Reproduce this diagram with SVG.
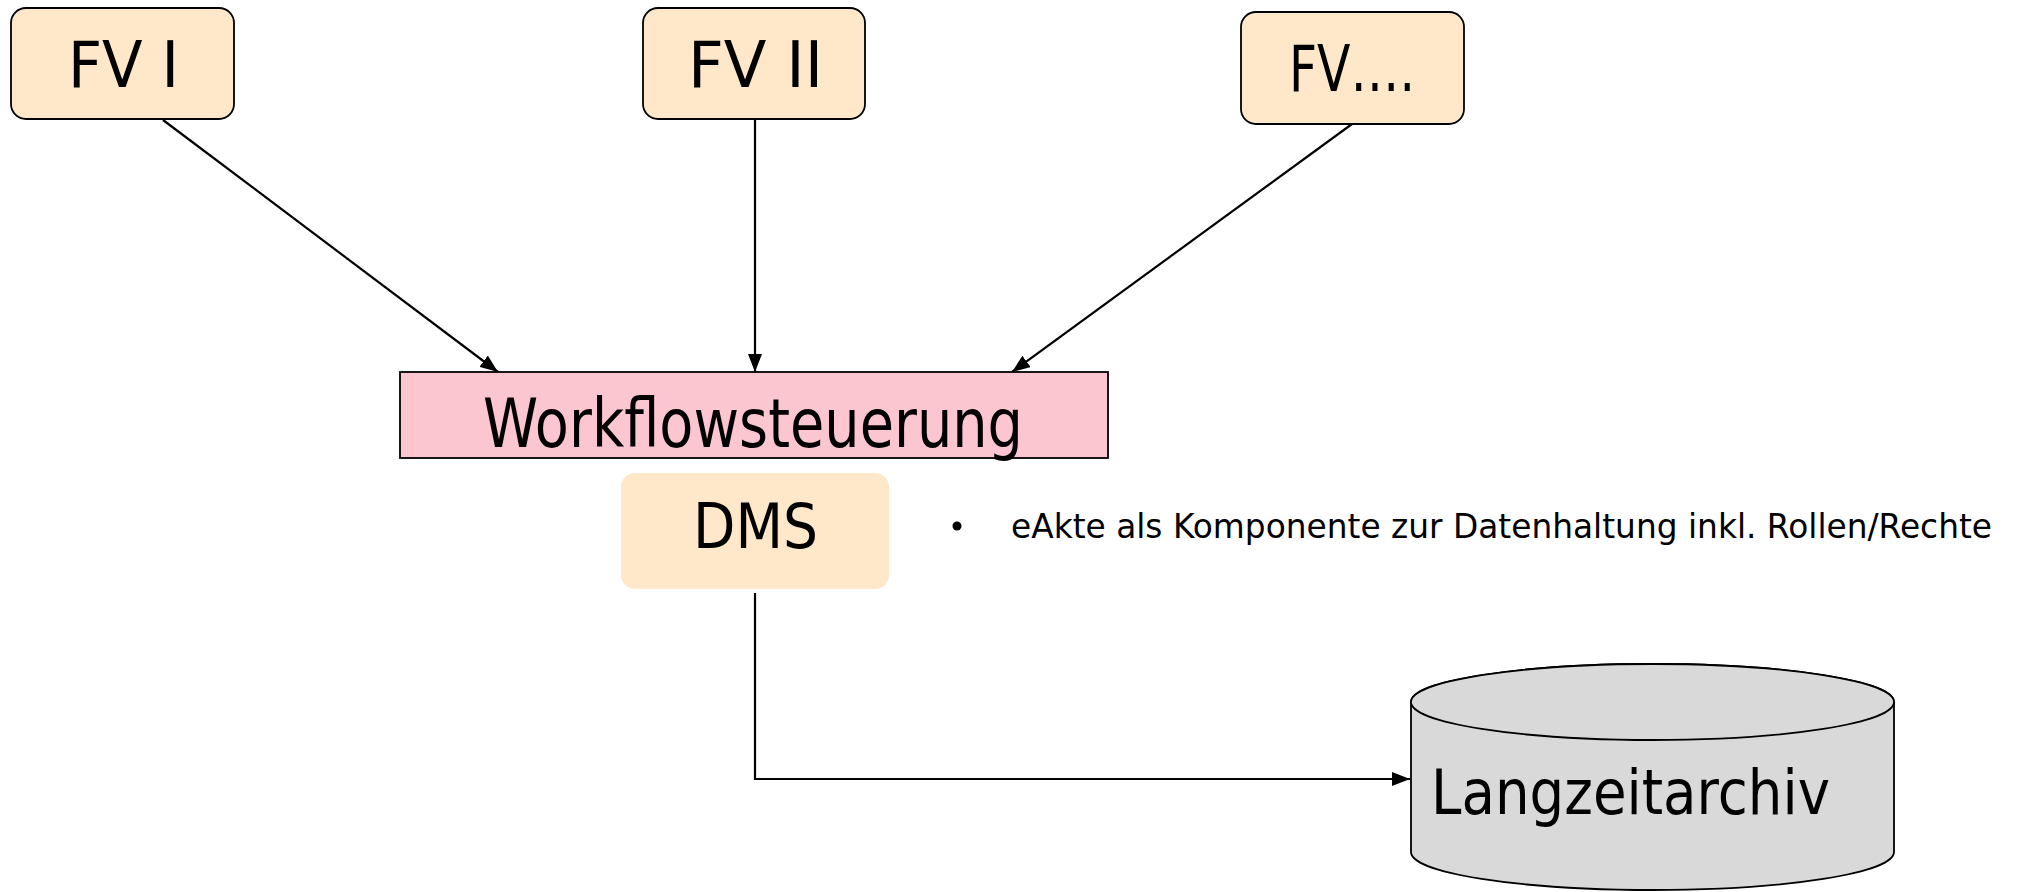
<svg xmlns="http://www.w3.org/2000/svg" width="2025" height="892" viewBox="0 0 2025 892">
<style>
.box{fill:#FFE8C9;stroke:#000;stroke-width:1.8}
.dms{fill:#FFE8C9;stroke:none}
.wf{fill:#FCC6D0;stroke:#000;stroke-width:1.8}
.cyl{fill:#D9D9D9;stroke:#000;stroke-width:1.8}
.lbl{font-family:"DejaVu Sans","Liberation Sans",sans-serif;fill:#000}
.conn{fill:none;stroke:#000;stroke-width:2.2}
</style>
<defs>
<marker id="ah" markerUnits="userSpaceOnUse" markerWidth="20" markerHeight="14" refX="18" refY="7" orient="auto">
<path d="M0,0 L18,7 L0,14 Z" fill="#000"/>
</marker>
</defs>
<rect width="2025" height="892" fill="#fff"/>
<g id="connectors">
<line class="conn" x1="163" y1="120" x2="498" y2="372" marker-end="url(#ah)"/>
<line class="conn" x1="755" y1="119" x2="755" y2="372" marker-end="url(#ah)"/>
<line class="conn" x1="1352" y1="124" x2="1012" y2="372" marker-end="url(#ah)"/>
<polyline class="conn" points="755,593 755,779 1410,779" marker-end="url(#ah)"/>
</g>
<g id="fv1">
<rect class="box" x="11" y="8" width="223" height="111" rx="15"/>
<text class="lbl" x="123.5" y="87" font-size="64" text-anchor="middle" textLength="111" lengthAdjust="spacingAndGlyphs">FV I</text>
</g>
<g id="fv2">
<rect class="box" x="643" y="8" width="222" height="111" rx="15"/>
<text class="lbl" x="755.5" y="87" font-size="64" text-anchor="middle" textLength="135" lengthAdjust="spacingAndGlyphs">FV II</text>
</g>
<g id="fv3">
<rect class="box" x="1241" y="12" width="223" height="112" rx="15"/>
<text class="lbl" x="1352" y="91" font-size="64" text-anchor="middle" textLength="126" lengthAdjust="spacingAndGlyphs">FV….</text>
</g>
<g id="workflow">
<rect class="wf" x="400" y="372" width="708" height="86"/>
<text class="lbl" x="753" y="447" font-size="67" text-anchor="middle" textLength="540" lengthAdjust="spacingAndGlyphs">Workflowsteuerung</text>
</g>
<g id="dms">
<rect class="dms" x="621" y="473" width="268" height="116" rx="14"/>
<text class="lbl" x="755.5" y="548" font-size="63" text-anchor="middle" textLength="125" lengthAdjust="spacingAndGlyphs">DMS</text>
</g>
<g id="note">
<circle cx="957" cy="526" r="4.5" fill="#000"/>
<text class="lbl" x="1011" y="538" font-size="33" textLength="981" lengthAdjust="spacingAndGlyphs">eAkte als Komponente zur Datenhaltung inkl. Rollen/Rechte</text>
</g>
<g id="archiv">
<path class="cyl" d="M1411,702 L1411,852 A241.5,38 0 0 0 1894,852 L1894,702 A241.5,38 0 0 0 1411,702 Z"/>
<ellipse class="cyl" cx="1652.5" cy="702" rx="241.5" ry="38"/>
<text class="lbl" x="1431" y="814" font-size="62" textLength="399" lengthAdjust="spacingAndGlyphs">Langzeitarchiv</text>
</g>
</svg>
